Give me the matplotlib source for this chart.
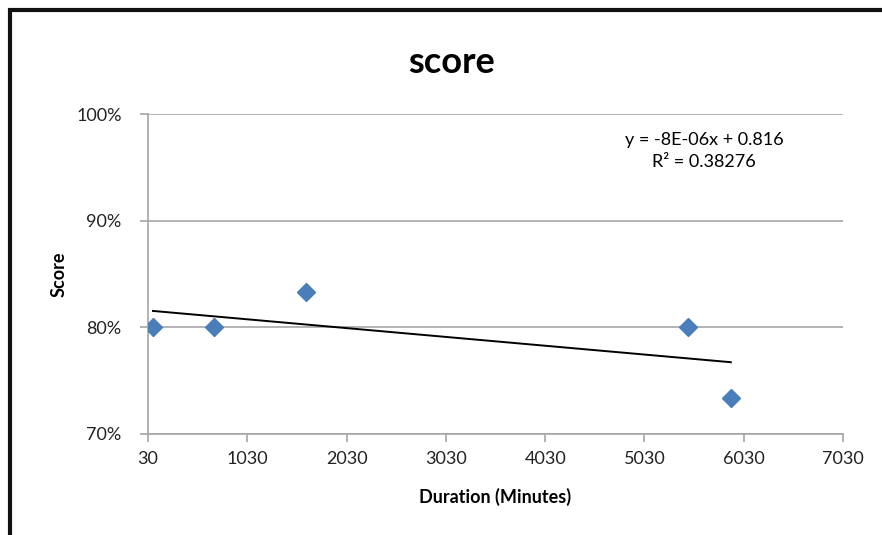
import numpy as np
import matplotlib
matplotlib.use('Agg')
import matplotlib.pyplot as plt
from matplotlib.patches import Rectangle
from matplotlib.ticker import FuncFormatter

# data
duration = [80, 690, 1620, 5470, 5900]
score = [0.80, 0.80, 0.8333, 0.80, 0.7333]
x_ticks = [30, 1030, 2030, 3030, 4030, 5030, 6030, 7030]
y_ticks = [0.70, 0.80, 0.90, 1.00]
trend_text = 'y = -8E-06x + 0.816\nR² = 0.38276'

plt.rcParams['font.family'] = ['Lato', 'DejaVu Sans']

fig = plt.figure(figsize=(8.82, 5.35), dpi=100)
ax = fig.add_axes([0.1678, 0.1888, 0.788, 0.598])

# linear trendline fitted to the points
slope, intercept = np.polyfit(duration, score, 1)
xs = np.array([min(duration), max(duration)])
ax.plot(xs, slope * xs + intercept, color='black', lw=1.4, zorder=3)

ax.plot(duration, score, linestyle='none', marker='D', markersize=9,
        color='#4a7ebb', markeredgecolor='#4a7ebb', zorder=4)

ax.set_xlim(30, 7030)
ax.set_ylim(0.70, 1.00)
ax.set_xticks(x_ticks)
ax.set_yticks(y_ticks)
ax.yaxis.set_major_formatter(FuncFormatter(lambda v, p: f'{v*100:.0f}%'))
ax.grid(axis='y', color='#a6a6a6', lw=1.2)
ax.set_axisbelow(True)

for s in ['top', 'right']:
    ax.spines[s].set_visible(False)
for s in ['left', 'bottom']:
    ax.spines[s].set_color('#a6a6a6')
    ax.spines[s].set_linewidth(1.2)
ax.tick_params(colors='#a6a6a6', labelcolor='#222222', labelsize=13, length=6, width=1.2)
ax.tick_params(axis='x', pad=6)
ax.tick_params(axis='y', pad=13)

fig.text(452 / 882, 1 - 62 / 535, 'score', fontsize=26, fontweight='bold',
         ha='center', va='center')
ax.set_xlabel('Duration (Minutes)', fontsize=13, fontweight='bold', labelpad=15)
ax.set_ylabel('Score', fontsize=13, fontweight='bold', labelpad=6)

ax.text(0.80, 0.885, trend_text, transform=ax.transAxes, ha='center', va='center',
        fontsize=13, linespacing=1.5)

# chart border (cropped at right and bottom)
fig.patches.append(Rectangle((10 / 882, -0.1), 1.2, 1 - 10 / 535 + 0.1,
                             transform=fig.transFigure, fill=False,
                             edgecolor='#111111', lw=3))

fig.savefig('out.png', dpi=100)
